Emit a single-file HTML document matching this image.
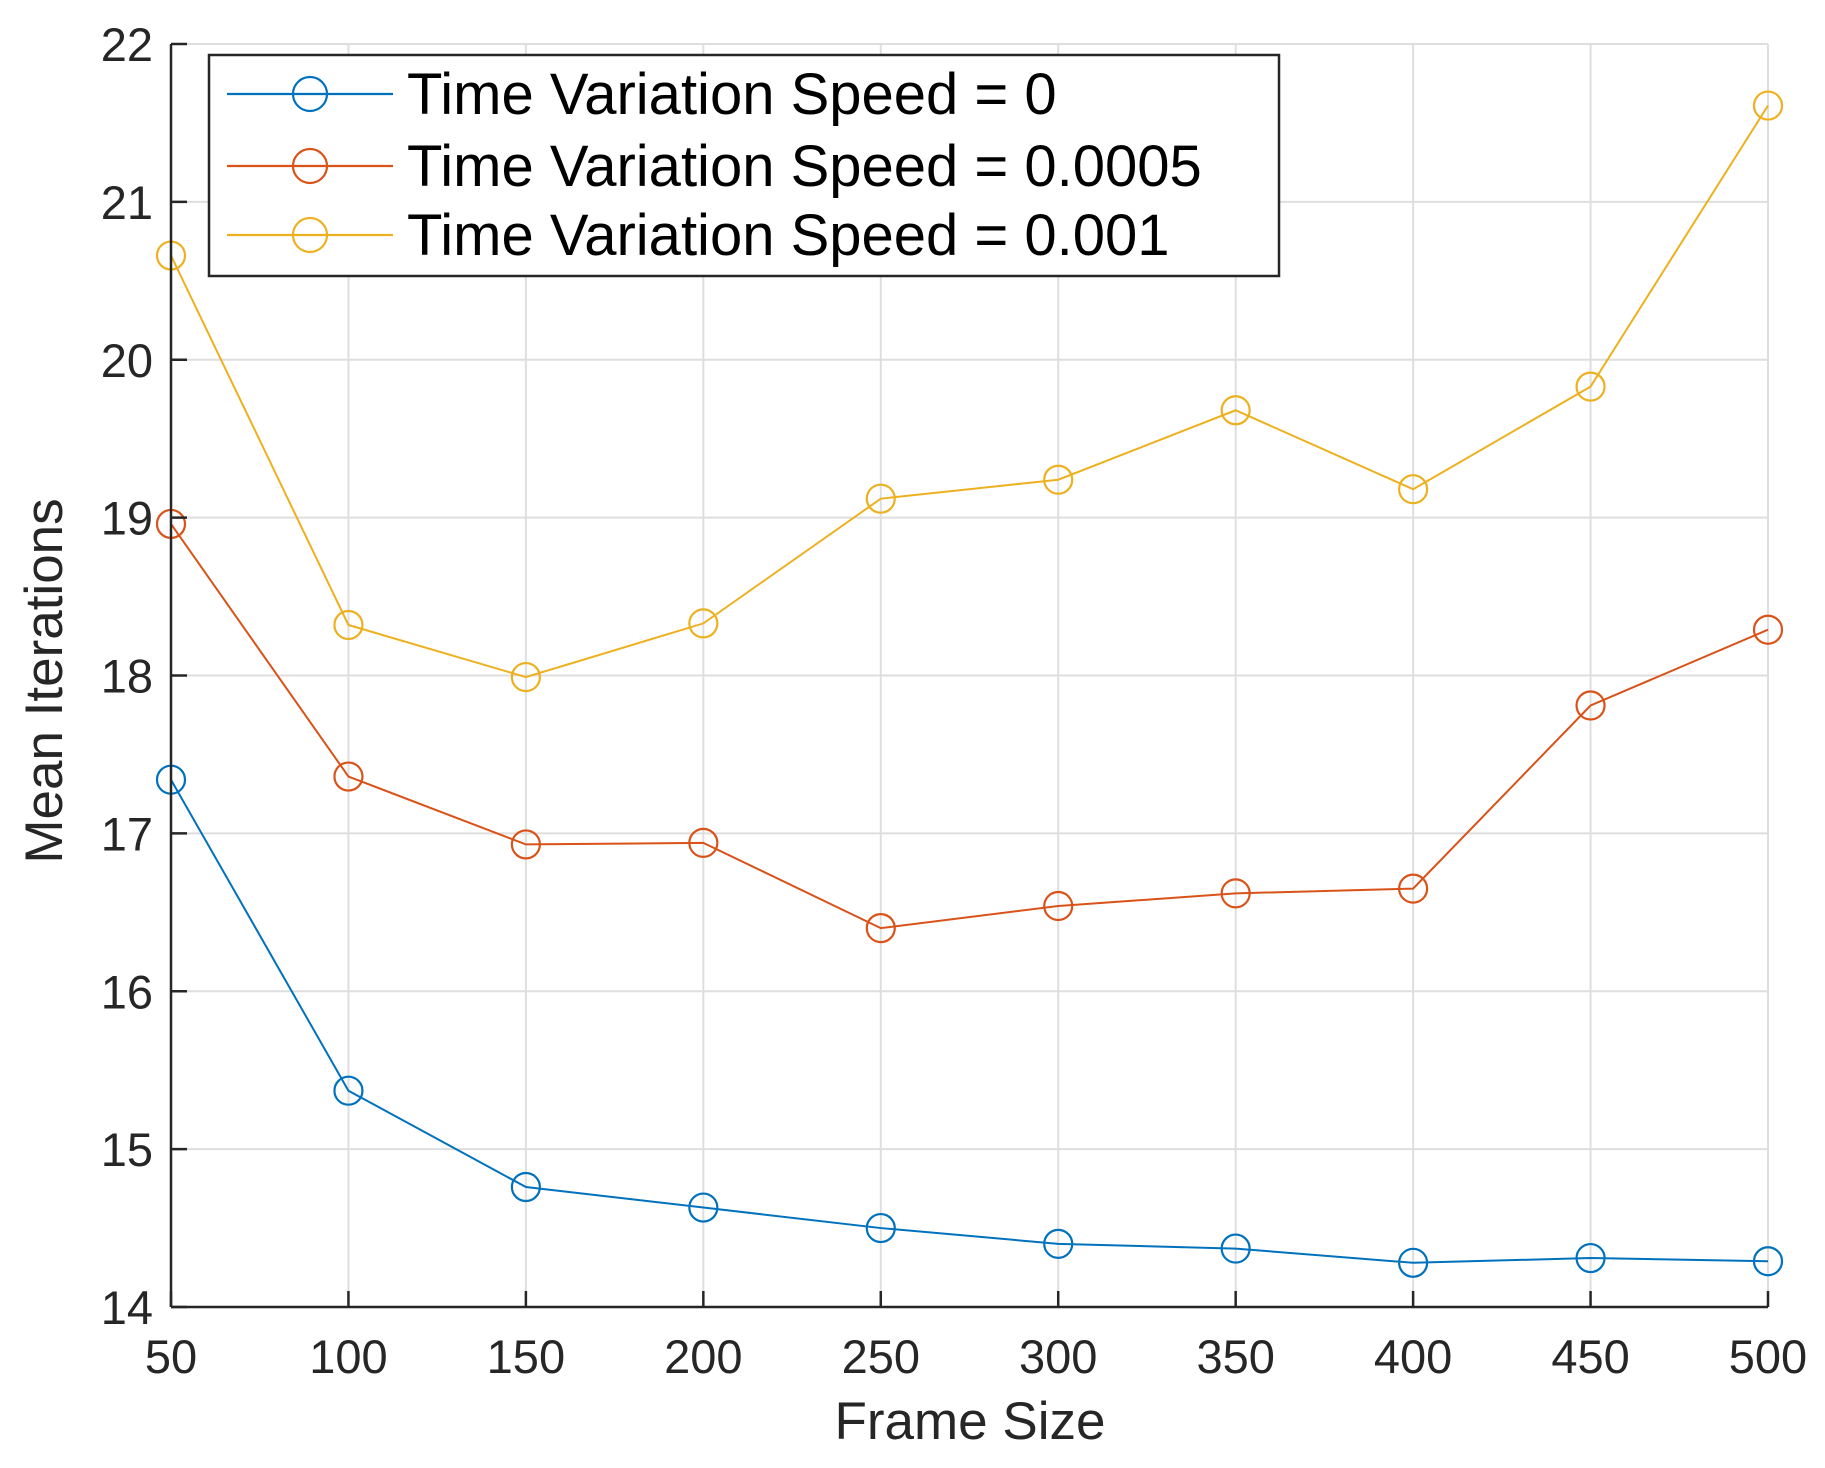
<!DOCTYPE html>
<html><head><meta charset="utf-8"><style>
html,body{margin:0;padding:0;background:#fff}
svg{display:block;font-family:"Liberation Sans",Arial,sans-serif}
</style></head><body>
<svg id="chart" width="1825" height="1468" viewBox="0 0 1825 1468" xmlns="http://www.w3.org/2000/svg">
<g id="grid"></g>
<g id="series"></g>
<g id="axes"></g>
<text x="0" y="0" transform="translate(62,681) rotate(-90)" text-anchor="middle" font-size="53" fill="#262626">Mean Iterations</text>
<text x="970" y="1439" text-anchor="middle" font-size="53" fill="#262626">Frame Size</text>
<g id="legend"></g>
</svg>
<script>
const frameSizes = [50,100,150,200,250,300,350,400,450,500];
const speed0 = [17.34,15.37,14.76,14.63,14.50,14.40,14.37,14.28,14.31,14.29];
const speed0005 = [18.96,17.36,16.93,16.94,16.40,16.54,16.62,16.65,17.81,18.29];
const speed001 = [20.66,18.32,17.99,18.33,19.12,19.24,19.68,19.18,19.83,21.61];
const seriesNames = ["Time Variation Speed = 0","Time Variation Speed = 0.0005","Time Variation Speed = 0.001"];
const xTicks = [50,100,150,200,250,300,350,400,450,500];
const yTicks = [14,15,16,17,18,19,20,21,22];

const NS="http://www.w3.org/2000/svg";
const L=171,R=1768,T=44,B=1307;
const xMin=50,xMax=500,yMin=14,yMax=22;
function xs(v){return L+(v-xMin)/(xMax-xMin)*(R-L);}
function ys(v){return B-(v-yMin)/(yMax-yMin)*(B-T);}
function mk(tag,attrs,parent){const e=document.createElementNS(NS,tag);for(const k in attrs)e.setAttribute(k,attrs[k]);parent.appendChild(e);return e;}
const grid=document.getElementById('grid'),axes=document.getElementById('axes'),ser=document.getElementById('series'),leg=document.getElementById('legend');

xTicks.forEach(t=>{
  const g=mk('line',{x1:xs(t),x2:xs(t),y1:T,y2:B,stroke:'#dedede','stroke-width':2},grid);
  
  
  const tk=mk('line',{x1:xs(t),x2:xs(t),y1:B,y2:B-16,stroke:'#262626','stroke-width':2.5},axes);
  
  
  const lb=mk('text',{x:xs(t),y:1373,'text-anchor':'middle','font-size':47,fill:'#262626'},axes);
  lb.textContent=t;
  
  
});
yTicks.forEach(t=>{
  const g=mk('line',{x1:L,x2:R,y1:ys(t),y2:ys(t),stroke:'#dedede','stroke-width':2},grid);
  
  
  const tk=mk('line',{x1:L,x2:L+16,y1:ys(t),y2:ys(t),stroke:'#262626','stroke-width':2.5},axes);
  
  
  const lb=mk('text',{x:153,y:ys(t)+17,'text-anchor':'end','font-size':47,fill:'#262626'},axes);
  lb.textContent=t;
  
  
});
const xa=mk('line',{x1:L,x2:R,y1:B,y2:B,stroke:'#262626','stroke-width':2.5},axes);


const ya=mk('line',{x1:L,x2:L,y1:T,y2:B,stroke:'#262626','stroke-width':2.5},axes);



const colors=['#0072bd','#d95319','#edb120'];
const allSeries=[speed0,speed0005,speed001];
allSeries.forEach((vals,si)=>{
  const pts=vals.map((v,i)=>xs(frameSizes[i])+','+ys(v)).join(' ');
  const pl=mk('polyline',{points:pts,fill:'none',stroke:colors[si],'stroke-width':2},ser);
  
  
  vals.forEach((v,i)=>{
    const c=mk('circle',{cx:xs(frameSizes[i]),cy:ys(v),r:14,fill:'none',stroke:colors[si],'stroke-width':2.2},ser);
    
    
  });
});

const box=mk('rect',{x:209,y:55,width:1070,height:221,fill:'#fff',stroke:'#262626','stroke-width':2.5},leg);


const rowsY=[94,166,235];
seriesNames.forEach((n,i)=>{
  const ln=mk('line',{x1:227,x2:393,y1:rowsY[i],y2:rowsY[i],stroke:colors[i],'stroke-width':2.2},leg);
  
  
  const c=mk('circle',{cx:310,cy:rowsY[i],r:17,fill:'none',stroke:colors[i],'stroke-width':2.2},leg);
  
  
  const t=mk('text',{x:407,y:rowsY[i]+20,'font-size':58,fill:'#000'},leg);
  t.textContent=n;
  
  
});
</script>
</body></html>
